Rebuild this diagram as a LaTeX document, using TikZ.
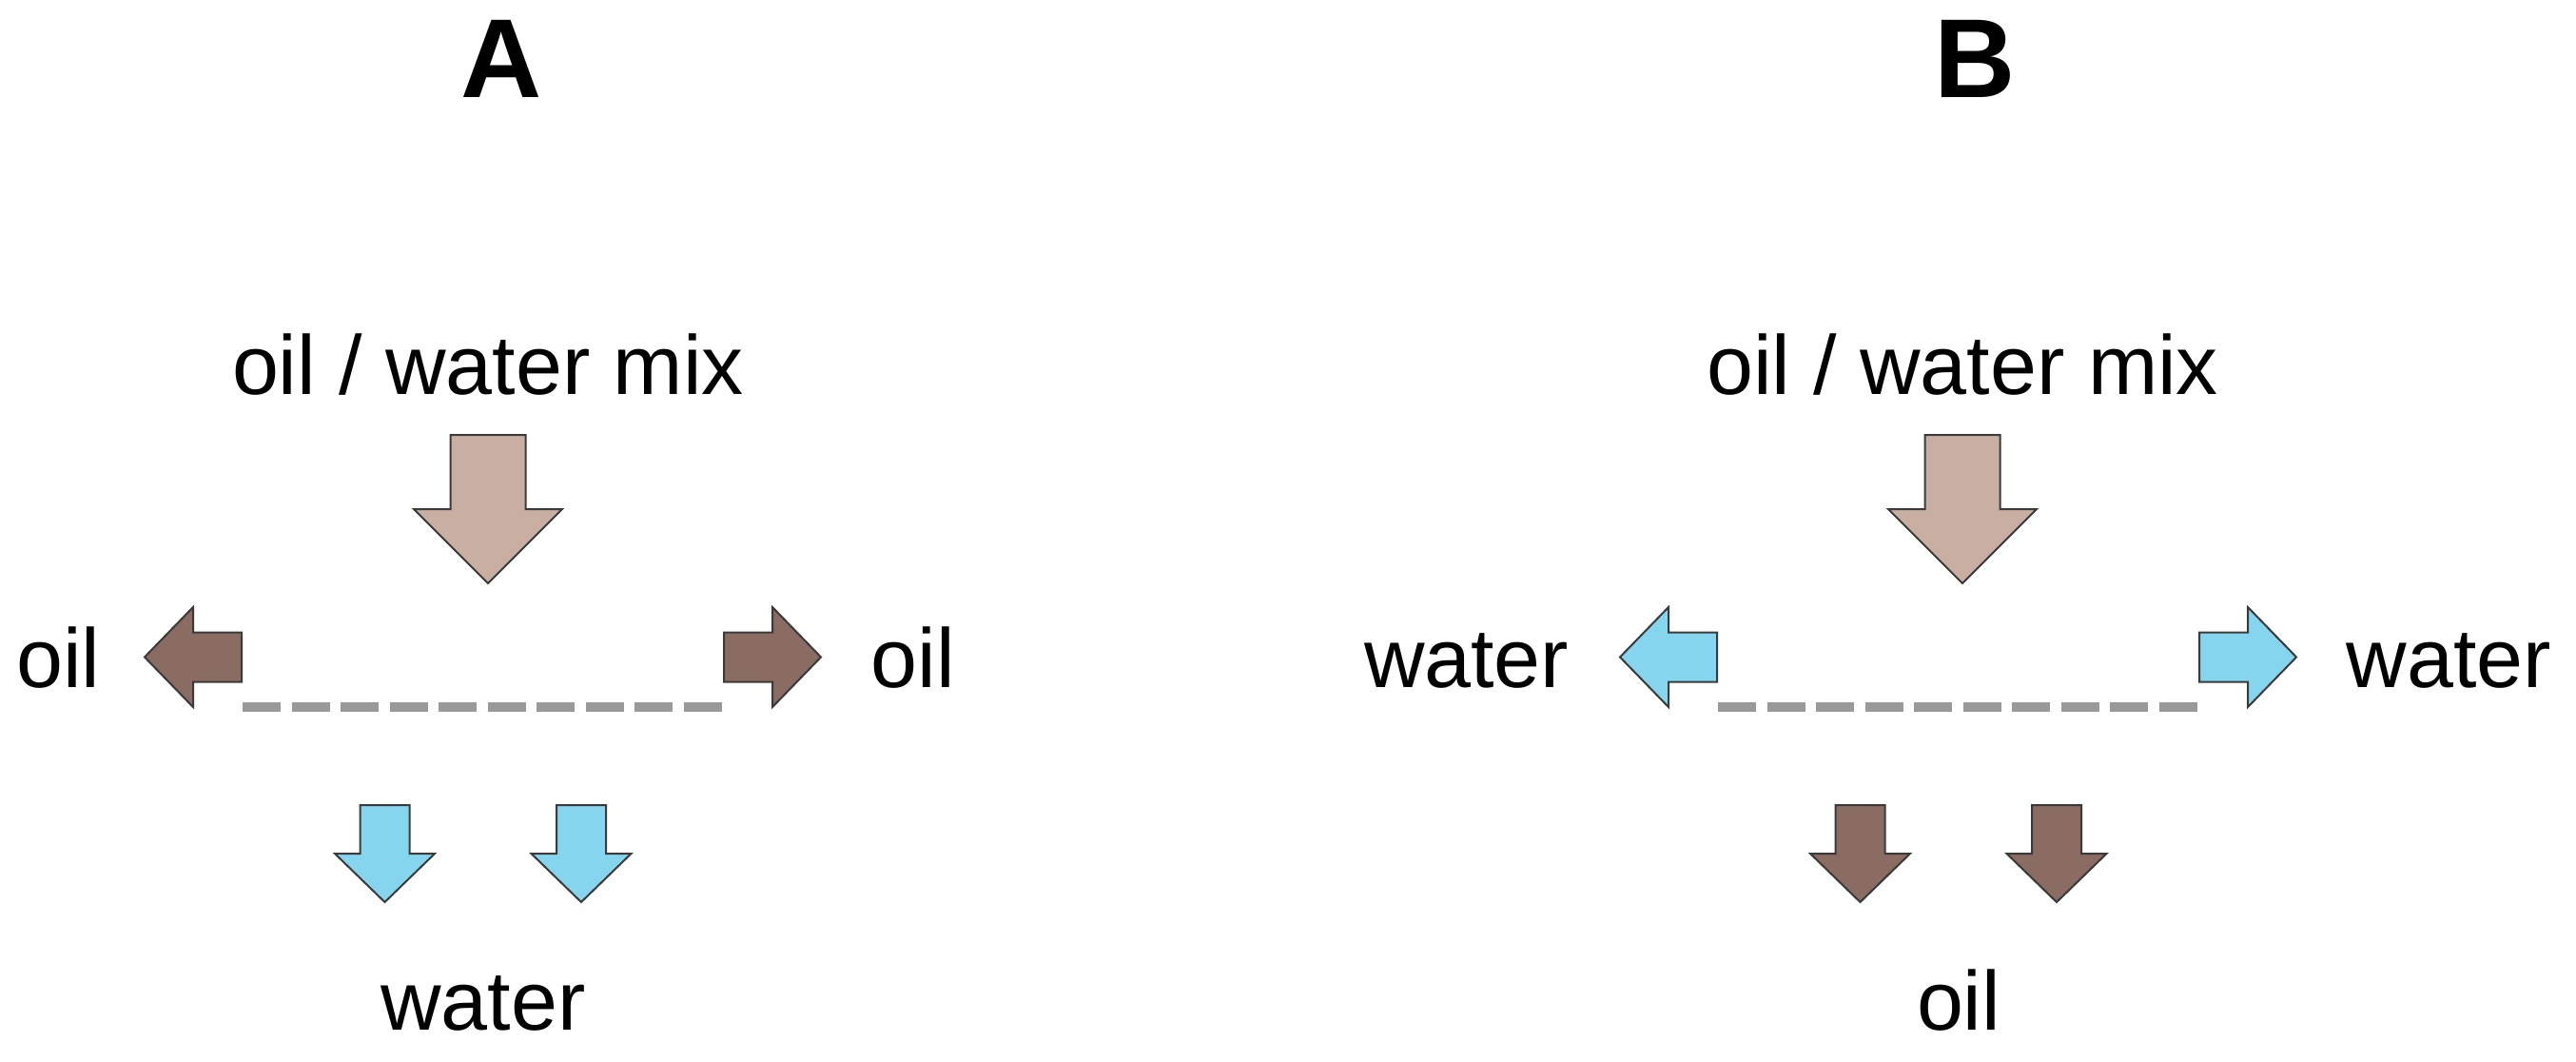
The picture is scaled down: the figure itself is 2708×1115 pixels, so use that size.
\documentclass[tikz,border=0pt]{standalone}
\usepackage{fontspec}
\setmainfont{Liberation Sans}
\definecolor{mixbrown}{HTML}{C9AFA2}
\definecolor{oilbrown}{HTML}{8B6C62}
\definecolor{waterblue}{HTML}{86D5EE}
\definecolor{edgegray}{HTML}{3A3A3A}
\definecolor{dashgray}{HTML}{999999}
\tikzset{
  arrowshape/.style={draw=edgegray, line width=0.5pt, line join=miter},
  bigarrow/.pic={\path[arrowshape,pic actions] (-39.5,0) -- (39.5,0) -- (39.5,78) -- (78,78) -- (0,156) -- (-78,78) -- (-39.5,78) -- cycle;},
  smallarrow/.pic={\path[arrowshape,pic actions] (-26,0) -- (26,0) -- (26,51) -- (52.5,51) -- (0,102) -- (-52.5,51) -- (-26,51) -- cycle;},
  sepline/.style={draw=dashgray, line width=2.5pt, dash pattern=on 10pt off 2.875pt},
  lbl/.style={font=\fontsize{22pt}{26pt}\selectfont, inner sep=0pt, text=black},
  paneltitle/.style={font=\fontsize{29.5pt}{34pt}\selectfont\bfseries, inner sep=0pt, anchor=base}
}
\begin{document}
\begin{tikzpicture}[x=0.25pt, y=-0.25pt]
\useasboundingbox (0,0) rectangle (2708,1115);
% ---------- Panel A ----------
\begin{scope}
  \node[paneltitle] (titleA) at (527,102) {A};
  \node[lbl, anchor=base] (mixA) at (513,414) {oil / water mix};
  \pic[fill=mixbrown] at (513,457) {bigarrow};
  \pic[fill=oilbrown, rotate=-90] at (254,690.5) {smallarrow};
  \pic[fill=oilbrown, rotate=90] at (761,690.5) {smallarrow};
  \coordinate (dA1) at (255,743);
  \coordinate (dA2) at (761,743);
  \draw[sepline] (dA1) -- (dA2);
  \node[lbl, anchor=base east] (leftA) at (106,722) {oil};
  \node[lbl, anchor=base west] (rightA) at (915,722) {oil};
  \pic[fill=waterblue] at (404.5,846) {smallarrow};
  \pic[fill=waterblue] at (611,846) {smallarrow};
  \node[lbl, anchor=base] (botA) at (508,1082) {water};
\end{scope}
% ---------- Panel B ----------
\begin{scope}[xshift=387.75pt]
  \node[paneltitle] (titleB) at (525,102) {B};
  \node[lbl, anchor=base] (mixB) at (512,414) {oil / water mix};
  \pic[fill=mixbrown] at (512,457) {bigarrow};
  \pic[fill=waterblue, rotate=-90] at (254,690.5) {smallarrow};
  \pic[fill=waterblue, rotate=90] at (761,690.5) {smallarrow};
  \coordinate (dB1) at (255,743);
  \coordinate (dB2) at (761,743);
  \draw[sepline] (dB1) -- (dB2);
  \node[lbl, anchor=base east] (leftB) at (99,722) {water};
  \node[lbl, anchor=base west] (rightB) at (915,722) {water};
  \pic[fill=oilbrown] at (404.5,846) {smallarrow};
  \pic[fill=oilbrown] at (611,846) {smallarrow};
  \node[lbl, anchor=base] (botB) at (508,1082) {oil};
\end{scope}
\end{tikzpicture}
\end{document}
